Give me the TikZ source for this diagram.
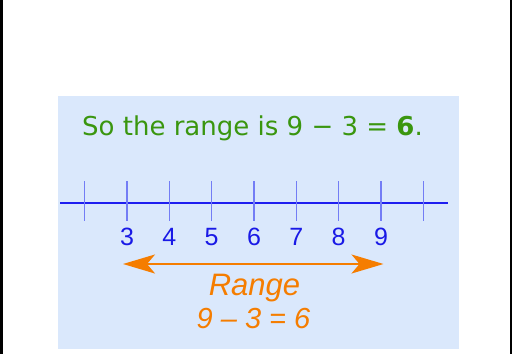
\documentclass[tikz,border=0pt]{standalone}
\usepackage{fontspec}
\setmainfont{Liberation Sans}
\newfontfamily\titlefont{DejaVu Sans}
\usetikzlibrary{arrows.meta}
\definecolor{panelblue}{RGB}{218,232,252}
\definecolor{titlegreen}{RGB}{58,150,15}
\definecolor{rangeorange}{RGB}{245,125,0}
\definecolor{axisblue}{RGB}{30,30,240}
\definecolor{tickblue}{RGB}{115,125,245}
\definecolor{numblue}{RGB}{25,25,230}
\tikzset{
  ticklabel/.style={anchor=base, inner sep=0pt, text=numblue, font=\fontsize{25}{29}\selectfont},
  tickmark/.style={draw=tickblue, line width=1.3pt},
  axisline/.style={draw=axisblue, line width=2.2pt},
  rangearrow/.style={draw=rangeorange, line width=2pt, {Stealth[length=32pt,width=19pt,inset=8pt]}-{Stealth[length=32pt,width=19pt,inset=8pt]}},
  orangetext/.style={anchor=base, inner sep=0pt, text=rangeorange},
}
\begin{document}
\begin{tikzpicture}[x=1pt,y=-1pt]
\useasboundingbox (0,0) rectangle (512,354);
\fill[white] (0,0) rectangle (512,354);
\fill[black] (0,0) rectangle (3,354);
\fill[black] (509.5,0) rectangle (512,354);
\fill[panelblue] (58,96) rectangle (459,349);
\node[anchor=base west, inner sep=0pt, text=titlegreen, font=\titlefont\fontsize{26}{31}\selectfont] (title) at (82,135) {So the range is 9 − 3 = \textbf{6}.};
\draw[axisline] (60,203) -- (448,203);
\foreach \i in {0,...,8} {
  \draw[tickmark] ({84.7+42.33*\i},181) -- ({84.7+42.33*\i},221);
}
\foreach \n [count=\k] in {3,4,5,6,7,8,9} {
  \node[ticklabel] (n\n) at ({84.7+42.33*\k},245.7) {\n};
}
\coordinate (al) at (123,264);
\coordinate (ar) at (383.5,264);
\draw[rangearrow] (al) -- (ar);
\node[orangetext, font=\fontsize{31}{36}\selectfont\itshape] (range) at (254.5,295) {Range};
\node[orangetext, font=\fontsize{29}{34}\selectfont\itshape] (calc) at (253.5,328) {9 – 3 = 6};
\end{tikzpicture}
\end{document}
